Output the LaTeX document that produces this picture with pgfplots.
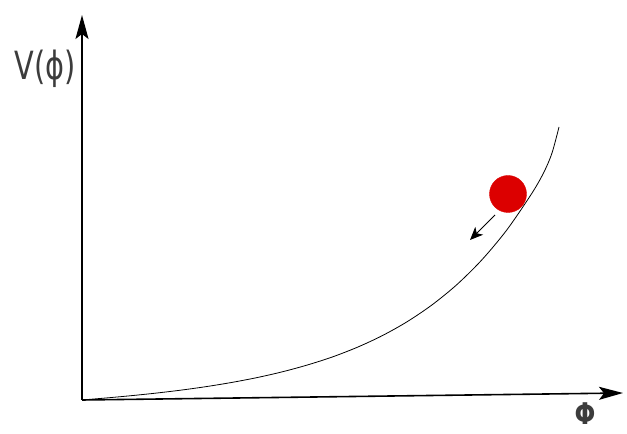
\documentclass[border=0pt]{standalone}
\usepackage{fontspec}
\usepackage{pgfplots}
\pgfplotsset{compat=1.18}
\usetikzlibrary{arrows.meta}
\newfontfamily\dejavu{DejaVu Sans}
\definecolor{ballred}{RGB}{220,0,0}
\definecolor{labelgray}{RGB}{60,60,60}
\begin{document}
\begin{tikzpicture}
\begin{axis}[
    width=627bp, height=434bp, scale only axis,
    xmin=-82, xmax=545, ymin=-34, ymax=400,
    hide axis, clip=false,
]
% potential curve (pixel-scaled data)
\addplot[black, line width=0.8pt, smooth] coordinates {
    (0,0) (25,2.1) (50,4.4) (75,7.0) (100,10.0) (125,13.5) (150,17.6)
    (175,22.4) (200,28.1) (225,34.9) (250,42.9) (275,52.6) (300,64.2)
    (325,78.2) (350,95.1) (375,115.5) (400,140.3) (425,170.3) (450,206.9)
    (462,228) (470,247) (477,273)
};
% axes
\addplot[black, line width=1.6pt, -{Stealth[length=24bp,width=13bp,inset=5bp]}]
    coordinates {(0,0) (0,385)};
\addplot[black, line width=1.6pt, -{Stealth[length=24bp,width=13bp,inset=5bp]}]
    coordinates {(0,0) (541,7)};
% rolling ball and its direction
\addplot[only marks, mark=*, mark size=18.5bp, ballred, mark options={draw=ballred, fill=ballred}]
    coordinates {(426,206)};
\addplot[black, line width=0.9pt, -{Stealth[length=13bp,width=11bp,inset=3.5bp]}]
    coordinates {(413,185) (388,160)};
% labels
\node[text=labelgray, font=\dejavu\fontsize{39}{42}\selectfont, xscale=0.74, inner sep=0pt]
    at (axis cs:-37,331) {V(ϕ)};
\node[text=labelgray, font=\dejavu\bfseries\fontsize{30}{32}\selectfont, xscale=0.82, inner sep=0pt]
    at (axis cs:503,-14) {Φ};
\path (axis cs:-82,-34) rectangle (axis cs:545,400);
\end{axis}
\end{tikzpicture}
\end{document}
